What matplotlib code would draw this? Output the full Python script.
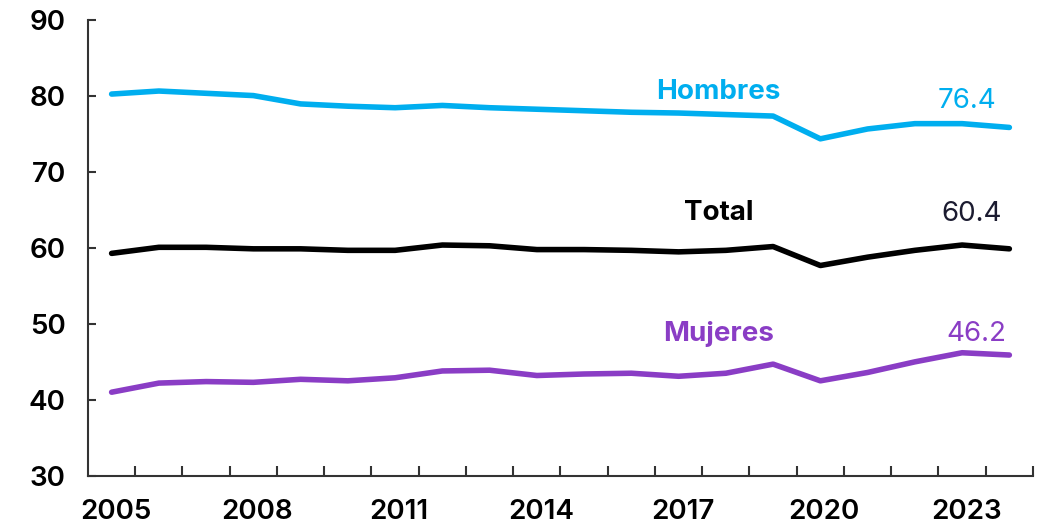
import matplotlib
matplotlib.use("Agg")
import matplotlib.pyplot as plt
import matplotlib.transforms as mtrans
import numpy as np

years = list(range(2005, 2025))
hombres = [80.3, 80.7, 80.4, 80.1, 79.0, 78.7, 78.5, 78.8, 78.5, 78.3,
           78.1, 77.9, 77.8, 77.6, 77.4, 74.4, 75.7, 76.4, 76.4, 75.9]
total = [59.3, 60.1, 60.1, 59.9, 59.9, 59.7, 59.7, 60.4, 60.3, 59.8,
         59.8, 59.7, 59.5, 59.7, 60.2, 57.7, 58.8, 59.7, 60.4, 59.9]
mujeres = [41.0, 42.2, 42.4, 42.3, 42.7, 42.5, 42.9, 43.8, 43.9, 43.2,
           43.4, 43.5, 43.1, 43.5, 44.7, 42.5, 43.6, 45.0, 46.2, 45.9]
tick_years = [2005, 2008, 2011, 2014, 2017, 2020, 2023]
y_ticks = [30, 40, 50, 60, 70, 80, 90]

c_h = "#00AEEF"
c_m = "#8A3DC5"
c_t = "#000000"
c_tv = "#1B1B30"

plt.rcParams['font.family'] = ['Inter', 'DejaVu Sans']

fig = plt.figure(figsize=(10.45, 5.25), dpi=100)
ax = fig.add_axes([0.0842, 0.094, 0.9043, 0.867])

x = np.arange(len(years))
ax.plot(x, hombres, color=c_h, lw=4, solid_capstyle='round', solid_joinstyle='round')
ax.plot(x, total, color=c_t, lw=4, solid_capstyle='round', solid_joinstyle='round')
ax.plot(x, mujeres, color=c_m, lw=4, solid_capstyle='round', solid_joinstyle='round')

ax.set_xlim(-0.5, len(years) - 0.5)
ax.set_ylim(30, 90)

for s in ['top', 'right']:
    ax.spines[s].set_visible(False)
for s in ['left', 'bottom']:
    ax.spines[s].set_color('#333333')
    ax.spines[s].set_linewidth(1.5)

ax.set_yticks(y_ticks)
ax.set_yticklabels([str(v) for v in y_ticks], fontsize=20, fontweight='semibold')
ax.tick_params(axis='y', direction='in', length=6, width=1.5, color='#333333', pad=16)

idx = [years.index(t) for t in tick_years]
ax.set_xticks(idx)
ax.set_xticklabels([str(t) for t in tick_years], fontsize=20, fontweight='semibold')
ax.tick_params(axis='x', which='major', length=0, pad=17)
ax.set_xticks(np.arange(0.5, len(years)), minor=True)
ax.tick_params(axis='x', which='minor', direction='in', length=7, width=1.5, color='#333333')
off = mtrans.ScaledTranslation(4 / 100, 0, fig.dpi_scale_trans)
for lab in ax.get_xticklabels():
    lab.set_transform(lab.get_transform() + off)

i23 = years.index(2023)
ax.text(12.85, hombres[13] + 1.2, "Hombres", color=c_h, fontsize=20, fontweight='bold',
        ha='center', va='bottom')
ax.text(i23 + 0.1, hombres[i23] + 1.3, f"{hombres[i23]:.1f}", color=c_h, fontsize=20,
        ha='center', va='bottom')
ax.text(12.85, total[13] + 3.2, "Total", color=c_t, fontsize=20, fontweight='bold',
        ha='center', va='bottom')
ax.text(i23 + 0.2, total[i23] + 2.4, f"{total[i23]:.1f}", color=c_tv, fontsize=20,
        ha='center', va='bottom')
ax.text(12.85, mujeres[13] + 3.4, "Mujeres", color=c_m, fontsize=20, fontweight='bold',
        ha='center', va='bottom')
ax.text(i23 + 0.3, mujeres[i23] + 0.8, f"{mujeres[i23]:.1f}", color=c_m, fontsize=20,
        ha='center', va='bottom')

fig.savefig("out.png", dpi=100)
